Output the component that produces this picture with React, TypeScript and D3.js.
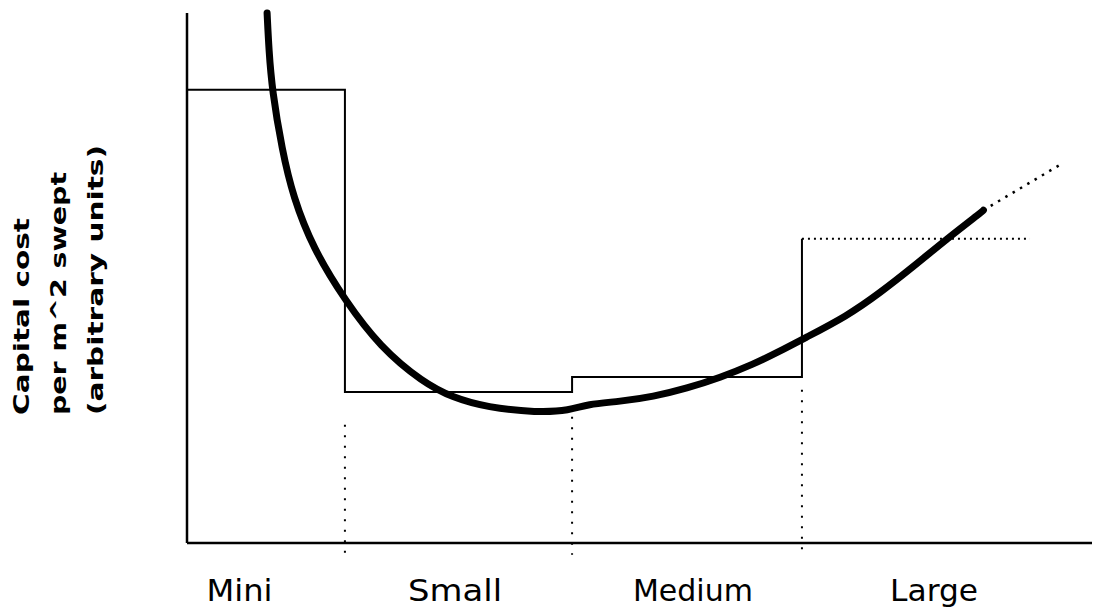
import React from "react";
import * as d3 from "d3";

// Size categories and their boundaries (arbitrary size units)
const categories = ["Mini", "Small", "Medium", "Large"];
const boundaries = [0, 0.698, 1.702, 2.718, 3.726];
// Step levels of capital cost per category (arbitrary units)
const stepLevels = [85.5, 28.5, 31.3, 57.4];
// Category label centres (size units)
const labelCentres = [0.232, 1.185, 2.236, 3.302];
const labelWidths = [66, 94, 120, 88];
// Dotted divider extents (cost units)
const dividerTops = [22.3, 23.8, 28.9];
const dividerBottom = -2.2;

// Cost curve (solid part)
const curveX = [0.354, 0.362, 0.376, 0.42, 0.469, 0.557, 0.698, 0.853, 1.043, 1.176, 1.326, 1.547, 1.693, 1.768, 1.914, 2.06, 2.21, 2.356, 2.502, 2.621, 2.718, 2.917, 3.063, 3.209, 3.359, 3.514, 3.52];
const curveY = [100, 93, 85.5, 74.2, 65.3, 55.6, 45.8, 37.0, 30.3, 27.4, 25.6, 24.6, 25.0, 26.2, 26.7, 27.6, 29.2, 31.2, 33.7, 36.2, 38.4, 42.8, 47.2, 52.1, 57.4, 62.5, 62.8];
// Extrapolated (dotted) part
const extX = [3.52, 3.872];
const extY = [62.8, 71.7];

const yTitle = ["Capital cost", "per m^2 swept", "(arbitrary units)"];
const yTitleLengths = [197, 243, 270];

export default function App() {
  const W = 1101;
  const H = 607;
  const x = d3.scaleLinear().domain([0, 4]).range([187, 1092]);
  const y = d3.scaleLinear().domain([0, 100]).range([543, 13]);

  const solidPts: [number, number][] = curveX.map((v, i) => [v, curveY[i]]);
  const extPts: [number, number][] = extX.map((v, i) => [v, extY[i]]);
  const line = d3
    .line<[number, number]>()
    .x((d) => x(d[0]))
    .y((d) => y(d[1]))
    .curve(d3.curveBasis);
  const straight = d3
    .line<[number, number]>()
    .x((d) => x(d[0]))
    .y((d) => y(d[1]));

  const stepPts: [number, number][] = [];
  stepPts.push([boundaries[0], stepLevels[0]]);
  for (let i = 0; i < 3; i++) {
    stepPts.push([boundaries[i + 1], stepLevels[i]]);
    stepPts.push([boundaries[i + 1], stepLevels[i + 1]]);
  }
  const largeTop: [number, number][] = [
    [boundaries[3], stepLevels[3]],
    [boundaries[4], stepLevels[3]],
  ];

  const font = "'DejaVu Sans', sans-serif";

  return (
    <svg
      width={W}
      height={H}
      style={{ position: "absolute", left: 0, top: 0, background: "#fff" }}
    >
      <rect width={W} height={H} fill="#fff" />
      <line x1={x(0)} y1={y(100)} x2={x(0)} y2={y(0)} stroke="#000" strokeWidth={2.5} />
      <line x1={x(0)} y1={y(0)} x2={x(4)} y2={y(0)} stroke="#000" strokeWidth={2.5} />

      {dividerTops.map((t, i) => (
        <line
          key={"div" + i}
          x1={x(boundaries[i + 1])}
          x2={x(boundaries[i + 1])}
          y1={y(t)}
          y2={y(dividerBottom)}
          stroke="#000"
          strokeWidth={2}
          strokeDasharray="2 8.5"
        />
      ))}

      <path d={straight(stepPts) || ""} fill="none" stroke="#000" strokeWidth={2} />
      <path
        d={straight(largeTop) || ""}
        fill="none"
        stroke="#000"
        strokeWidth={2}
        strokeDasharray="2 4"
      />

      <path
        d={line(solidPts) || ""}
        fill="none"
        stroke="#000"
        strokeWidth={7}
        strokeLinecap="round"
      />
      <path
        d={straight(extPts) || ""}
        fill="none"
        stroke="#000"
        strokeWidth={2.5}
        strokeDasharray="2.5 6"
      />

      {categories.map((c, i) => (
        <text
          key={c}
          x={x(labelCentres[i])}
          y={601}
          textAnchor="middle"
          fontFamily={font}
          fontSize={31}
          textLength={labelWidths[i]}
          lengthAdjust="spacingAndGlyphs"
          fill="#000"
        >
          {c}
        </text>
      ))}

      {yTitle.map((t, i) => (
        <text
          key={t}
          transform={`translate(${29 + i * 37},415) rotate(-90)`}
          textAnchor="start"
          fontFamily={font}
          fontWeight="bold"
          fontSize={21}
          textLength={yTitleLengths[i]}
          lengthAdjust="spacingAndGlyphs"
          fill="#000"
        >
          {t}
        </text>
      ))}
    </svg>
  );
}
